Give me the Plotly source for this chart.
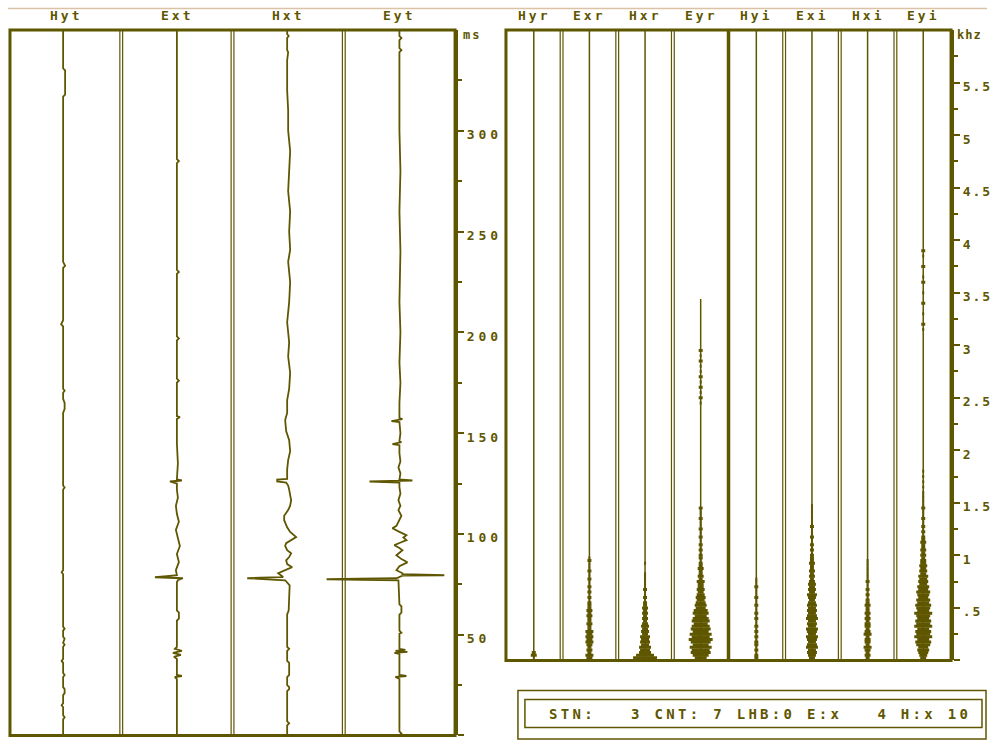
import plotly.graph_objects as go

OLIVE = '#5f5600'
W, H = 992, 751                 # target picture size
FW, FH = 992, 744               # figure size (leaves room for the page's trailing line)
SX, SY = 0.997, 0.994           # small page-to-picture scale seen in the viewer

# ---------------- data ----------------
LEFT_LABELS = ['Hyt', 'Ext', 'Hxt', 'Eyt']
RIGHT_LABELS = ['Hyr', 'Exr', 'Hxr', 'Eyr', 'Hyi', 'Exi', 'Hxi', 'Eyi']

TIME_TICKS = [0, 50, 100, 150, 200, 250, 300]
TIME_TICK_TEXT = ['', '50', '100', '150', '200', '250', '300']
TIME_MINOR = [25, 75, 125, 175, 225, 275, 325]

FREQ_TICKS = [0, 0.5, 1, 1.5, 2, 2.5, 3, 3.5, 4, 4.5, 5, 5.5]
FREQ_TICK_TEXT = ['', '.5', '1', '1.5', '2', '2.5', '3', '3.5', '4', '4.5', '5', '5.5']
FREQ_MINOR = [0.25, 0.75, 1.25, 1.75, 2.25, 2.75, 3.25, 3.75, 4.25, 4.75, 5.25, 5.75]

# time series: (time ms, amplitude)
HYT = [(0, -2.5), (8, -2.5), (9, -1), (10, -2.5), (14, -2.5), (15, -4), (16, -2.5), (20, -2.5),
       (21, -1), (23, -1), (24, -2.5), (29, -2.5), (30, -1), (31, -2.5), (36, -2.5), (37, -4),
       (38, -2.5), (44, -2.5), (45, -1), (46, -2.5), (48, -1), (49, -2.5), (52, -2.5), (53, -1),
       (54, -2.5), (80, -2.5), (81, -4), (82, -2.5), (122, -2.5), (123, -1), (124, -2.5),
       (160, -2.5), (162, -1), (165, -1), (167, -2.5), (170, -2.5), (171, -1), (172, -2.5),
       (203, -2.5), (204, -4.5), (206, -2.5), (232, -2.5), (233, -0.5), (235, -2.5),
       (317, -2.5), (318, -0.5), (330, -0.5), (331, -2.5), (350, -2.5)]

EXT = [(0, 0), (28, 0), (29, -2), (29.5, 5), (30, 0), (38, 0), (39, -3), (40, 4), (41, -4),
       (42, 5), (43, -2), (44, 0), (57, 0), (58, 2), (61, 2), (62, 0), (76, 0), (77, 1),
       (78, 6), (78.5, -22), (79, -10), (79.5, 0), (82, -1), (86, 2), (90, 0), (94, 3),
       (98, 1), (102, -1), (106, 2), (110, 0), (114, -1), (118, 1), (122, 0), (125, 0),
       (126, -7), (126.5, 5), (127, 0), (135, 1), (145, 0), (157, 0), (158, 3), (158.5, 0),
       (175, 0), (176, 2), (177, 0), (196, 0), (197, 2), (198, 0), (229, 0), (230, 2),
       (231, 0), (284, 0), (285, 2), (286, 0), (350, 0)]

HXT = [(0, -1), (5, -1), (6, 1), (7, -1), (22, -1), (23, 1), (24, 1), (25, -1), (29, -1),
       (30, 1), (36, 1), (37, -1), (42, -1), (43, 1), (44, -1), (60, -1), (62, 0.5), (68, 1),
       (74.5, 1.5), (77, -3), (78, -41), (78.3, -28), (78.6, -5), (80.5, -10), (82, -2),
       (83.5, 4), (85, -1), (86.9, -2), (88.5, 1), (90.4, 3), (91.9, -1), (94, -3),
       (95.4, -2), (98.4, 8), (101, 2), (103.3, -1), (106.8, -4), (109, -4), (111.8, 0),
       (114, 2), (116.7, 3), (120, 2), (122, 1), (124, 0), (125.5, -2), (126, -11),
       (127, -11), (127.3, -1), (132, -1), (136.6, 0), (141, 2), (146.5, 1), (151, -2),
       (156.5, -3), (160, -1), (166.4, -1), (172, 1), (180, 2), (188, 0), (195, 1),
       (205, -1), (215, 1), (225, 2), (235, 0), (241, 2), (250, 1), (260, 2), (270, 0),
       (280, 1), (290, 2), (300, 0), (310, 0), (320, -1), (335, -1), (339, 0), (340, -1),
       (346, -1), (347, 0.5), (348, -1), (350, -1)]

EYT = [(0, 0), (1, 2), (2, 0), (28, 0), (29, -4), (29.5, 7), (30, 0), (40.5, 0), (41, -5),
       (41.5, 8), (42, -4), (42.5, 6), (43, 0), (50.5, 0), (51, 2), (52, 0), (60, 0), (61, 2),
       (64, 2), (65, 0), (77, -1), (77.5, -73), (77.8, -40), (78, -3), (79.3, 3), (79.5, 45),
       (79.7, 35), (80, 3), (80.5, 3), (82, -3), (84, 0), (85.9, 8), (87.5, 2), (89.4, -3),
       (90.5, 0), (91.9, 3), (93, 0), (94.4, -5), (95.5, 0), (96.9, 7), (98.2, 4),
       (99.4, 7), (101, 0), (102.8, -7), (104, -3), (106.8, 0), (109, 2), (111.8, -1),
       (114, 1), (116.7, -1), (120, 1), (123.2, 0), (125.5, 0), (126, -30), (126.5, 13),
       (127, 0), (130, 1), (133, -1), (136, 1), (140, 0), (144, 0), (144.5, -7), (145.5, 2),
       (146, 0), (150, 1), (155.5, 0), (156, -8), (157, 3), (157.5, 0), (165, 0), (175, 1),
       (185, 0), (200, 1), (215, 0), (240, 1), (260, 0), (280, 1), (300, 0), (320, 0),
       (339, 0), (340, 2), (341, 0), (345, 0), (346, 2), (347, 0), (350, 0)]

TIME_SERIES = [HYT, EXT, HXT, EYT]

# spectra: frequency grid (kHz) and half-widths
FREQ_GRID = [0.025, 0.05, 0.075, 0.1, 0.125, 0.15, 0.175, 0.2, 0.225, 0.25, 0.275, 0.3,
             0.325, 0.35, 0.375, 0.4, 0.425, 0.45, 0.475, 0.5, 0.525, 0.55, 0.575, 0.6,
             0.625, 0.65, 0.675, 0.7, 0.725, 0.75, 0.775, 0.8, 0.825, 0.85, 0.875, 0.9,
             0.925, 0.95, 0.975, 1.0, 1.025, 1.05, 1.075, 1.1, 1.125, 1.15, 1.175, 1.2,
             1.225, 1.25, 1.275, 1.3, 1.325, 1.35, 1.375, 1.4, 1.425, 1.45, 1.475, 1.5,
             1.525, 1.55, 1.575, 1.6, 1.625, 1.65, 1.675, 1.7, 1.725, 1.75, 1.775, 1.8]

HYR = [1, 3, 2, 0, 0, 0, 0, 0, 0, 0, 0, 0,
       0, 0, 0, 0, 0, 0, 0, 0, 0, 0, 0, 0,
       0, 0, 0, 0, 0, 0, 0, 0, 0, 0, 0, 0,
       0, 0, 0, 0, 0, 0, 0, 0, 0, 0, 0, 0,
       0, 0, 0, 0, 0, 0, 0, 0, 0, 0, 0, 0,
       0, 0, 0, 0, 0, 0, 0, 0, 0, 0, 0, 0]
EXR = [3, 4, 2, 3, 2, 3, 4, 3, 4, 3, 4, 2,
       2, 3, 2, 2, 3, 2, 3, 2, 2, 2, 1, 2,
       1, 2, 1, 2, 1, 1, 2, 1, 1, 2, 1, 1,
       1, 2, 1, 0, 0, 0, 0, 0, 0, 0, 0, 0,
       0, 0, 0, 0, 0, 0, 0, 0, 0, 0, 0, 0,
       0, 0, 0, 0, 0, 0, 0, 0, 0, 0, 0, 0]
HXR = [12, 9, 6, 5, 6, 4, 5, 4, 5, 3, 4, 3,
       4, 3, 2, 3, 2, 3, 2, 3, 2, 2, 1, 2,
       1, 1, 2, 1, 1, 1, 1, 1, 1, 0, 0, 0,
       1, 0, 0, 0, 0, 0, 0, 0, 0, 0, 0, 0,
       0, 0, 0, 0, 0, 0, 0, 0, 0, 0, 0, 0,
       0, 0, 0, 0, 0, 0, 0, 0, 0, 0, 0, 0]
EYR = [6, 8, 10, 9, 11, 8, 10, 12, 9, 11, 8, 10,
       9, 7, 9, 8, 6, 8, 7, 5, 6, 5, 4, 5,
       4, 3, 4, 3, 3, 4, 2, 3, 2, 2, 3, 2,
       2, 1, 2, 2, 1, 2, 1, 2, 1, 1, 2, 1,
       1, 2, 1, 1, 1, 2, 1, 1, 1, 2, 0, 0,
       0, 0, 0, 0, 0, 0, 0, 0, 0, 0, 0, 0]
HYI = [2, 2, 1, 2, 1, 2, 2, 1, 2, 1, 2, 1,
       2, 1, 1, 2, 1, 2, 1, 1, 2, 1, 1, 2,
       1, 1, 1, 2, 1, 1, 1, 0, 0, 0, 0, 0,
       0, 0, 0, 0, 0, 0, 0, 0, 0, 0, 0, 0,
       0, 0, 0, 0, 0, 0, 0, 0, 0, 0, 0, 0,
       0, 0, 0, 0, 0, 0, 0, 0, 0, 0, 0, 0]
EXI = [3, 4, 5, 4, 6, 5, 4, 5, 6, 4, 5, 6,
       4, 5, 4, 6, 5, 4, 5, 4, 5, 4, 3, 4,
       5, 3, 4, 3, 4, 3, 2, 3, 2, 3, 2, 2,
       3, 2, 2, 2, 1, 2, 1, 2, 1, 1, 2, 1,
       1, 1, 2, 1, 1, 1, 1, 1, 1, 1, 1, 0,
       0, 0, 0, 0, 0, 0, 0, 0, 0, 0, 0, 0]
HXI = [2, 3, 2, 3, 4, 2, 3, 3, 2, 4, 3, 2,
       3, 3, 2, 3, 2, 3, 2, 2, 3, 2, 2, 1,
       2, 1, 2, 1, 1, 2, 1, 1, 1, 1, 1, 1,
       1, 1, 0, 0, 0, 0, 0, 0, 0, 0, 0, 0,
       0, 0, 0, 0, 0, 0, 0, 0, 0, 0, 0, 0,
       0, 0, 0, 0, 0, 0, 0, 0, 0, 0, 0, 0]
EYI = [3, 4, 5, 6, 5, 7, 8, 6, 9, 7, 8, 6,
       9, 7, 8, 6, 7, 9, 6, 7, 8, 6, 7, 5,
       6, 7, 5, 6, 4, 5, 4, 5, 3, 4, 3, 4,
       3, 3, 2, 3, 2, 3, 2, 2, 3, 2, 2, 1,
       2, 1, 2, 1, 1, 2, 1, 1, 1, 2, 1, 1,
       1, 1, 1, 1, 0, 1, 0, 1, 0, 1, 0, 1]
SPECTRA = [HYR, EXR, HXR, EYR, HYI, EXI, HXI, EYI]

# sparse higher-frequency components
EYR_HI_F = [2.45, 2.5, 2.55, 2.6, 2.65, 2.7, 2.75, 2.8, 2.85, 2.9, 2.95]
EYR_HI_A = [1, 2, 1, 2, 1, 2, 1, 1, 2, 1, 2]
EYI_HI_F = [3.15, 3.2, 3.3, 3.4, 3.5, 3.6, 3.65, 3.75, 3.85, 3.9]
EYI_HI_A = [1, 2, 1, 2, 1, 2, 1, 2, 1, 2]
HI_EXTRA = {3: (EYR_HI_F, EYR_HI_A), 7: (EYI_HI_F, EYI_HI_A)}

SPEC_TOP = [6, 6, 6, 3.44, 6, 6, 6, 6]

INFO_TEXT = 'STN:\u00a0\u00a0\u00a03\u00a0CNT:\u00a07\u00a0LHB:0\u00a0E:x\u00a0\u00a0\u00a04\u00a0H:x\u00a010'

# ---------------- layout geometry (picture pixels) ----------------
L_X0, L_X1 = 10, 456
R_X0, R_X1 = 507, 953
TOP = 30
L_BOT = 735
R_BOT = 660
L_W = (L_X1 - L_X0) / 4
R_W = (R_X1 - R_X0) / 8


def fx(x):
    return min(x / SX, FW - 1) / FW


def fy(y):
    return 1 - min(y / SY, FH - 1) / FH


def spaced(s, ls):
    return '<span style="letter-spacing:%spx">%s</span>' % (ls, s)


fig = go.Figure()

# time series traces
for i, series in enumerate(TIME_SERIES):
    c = L_W * (i + 0.5)
    fig.add_trace(go.Scatter(
        x=[c + v for _, v in series], y=[t for t, _ in series],
        mode='lines', line=dict(color=OLIVE, width=1.8),
        xaxis='x', yaxis='y', showlegend=False, hoverinfo='skip'))

# spectra traces
for i, amps in enumerate(SPECTRA):
    c = R_W * (i + 0.5)
    xs, ys = [c, c, None], [0, SPEC_TOP[i], None]
    fig.add_trace(go.Scatter(x=xs, y=ys, mode='lines',
                             line=dict(color=OLIVE, width=1.5),
                             xaxis='x2', yaxis='y2', showlegend=False, hoverinfo='skip'))
    bx, by = [], []
    pairs = list(zip(FREQ_GRID, amps))
    if i in HI_EXTRA:
        pairs += list(zip(*HI_EXTRA[i]))
    for f, a in pairs:
        if a > 0:
            bx += [c - a, c + a, None]
            by += [f, f, None]
    fig.add_trace(go.Scatter(x=bx, y=by, mode='lines',
                             line=dict(color=OLIVE, width=3),
                             xaxis='x2', yaxis='y2', showlegend=False, hoverinfo='skip'))

shapes = []
# top thin tan line
shapes.append(dict(type='line', xref='paper', yref='paper', x0=fx(8), x1=1, y0=fy(8.5), y1=fy(8.5),
                   line=dict(color='#d9c2a6', width=1.5)))
# left frame
shapes.append(dict(type='rect', xref='paper', yref='paper', x0=fx(L_X0), x1=fx(L_X1),
                   y0=fy(L_BOT), y1=fy(TOP), line=dict(color=OLIVE, width=3), layer='below'))
for k in range(1, 4):
    xb = L_X0 + L_W * k
    for dx in (-1.4, 1.4):
        shapes.append(dict(type='line', xref='paper', yref='paper', x0=fx(xb + dx), x1=fx(xb + dx),
                           y0=fy(L_BOT), y1=fy(TOP), line=dict(color=OLIVE, width=1.2), layer='below'))
# right frame
shapes.append(dict(type='rect', xref='paper', yref='paper', x0=fx(R_X0), x1=fx(R_X1),
                   y0=fy(R_BOT), y1=fy(TOP), line=dict(color=OLIVE, width=3), layer='below'))
for k in range(1, 8):
    xb = R_X0 + R_W * k
    if k == 4:
        shapes.append(dict(type='line', xref='paper', yref='paper', x0=fx(xb), x1=fx(xb),
                           y0=fy(R_BOT), y1=fy(TOP), line=dict(color=OLIVE, width=3.5), layer='below'))
    else:
        for dx in (-1.4, 1.4):
            shapes.append(dict(type='line', xref='paper', yref='paper', x0=fx(xb + dx), x1=fx(xb + dx),
                               y0=fy(R_BOT), y1=fy(TOP), line=dict(color=OLIVE, width=1.2), layer='below'))
# info box
shapes.append(dict(type='rect', xref='paper', yref='paper', x0=fx(519), x1=fx(989),
                   y0=fy(744), y1=fy(690), line=dict(color=OLIVE, width=1.5)))
shapes.append(dict(type='rect', xref='paper', yref='paper', x0=fx(526), x1=fx(984),
                   y0=fy(727), y1=fy(699), line=dict(color=OLIVE, width=1.5)))

annotations = []
for i, lab in enumerate(LEFT_LABELS):
    annotations.append(dict(x=fx(L_X0 + L_W * (i + 0.5)), y=fy(15), xref='paper', yref='paper',
                            text=spaced(lab, 3), showarrow=False, xanchor='center', yanchor='middle',
                            font=dict(family='DejaVu Sans Mono', size=13, color=OLIVE, weight='bold')))
for i, lab in enumerate(RIGHT_LABELS):
    annotations.append(dict(x=fx(R_X0 + R_W * (i + 0.5)), y=fy(15), xref='paper', yref='paper',
                            text=spaced(lab, 3), showarrow=False, xanchor='center', yanchor='middle',
                            font=dict(family='DejaVu Sans Mono', size=13, color=OLIVE, weight='bold')))
annotations.append(dict(x=fx(462), y=fy(35), xref='paper', yref='paper', text=spaced('ms', 2),
                        showarrow=False, xanchor='left', yanchor='middle',
                        font=dict(family='DejaVu Sans Mono', size=12, color=OLIVE, weight='bold')))
annotations.append(dict(x=fx(957), y=fy(35), xref='paper', yref='paper', text=spaced('khz', 1),
                        showarrow=False, xanchor='left', yanchor='middle',
                        font=dict(family='DejaVu Sans Mono', size=12, color=OLIVE, weight='bold')))
annotations.append(dict(x=fx(548), y=fy(714), xref='paper', yref='paper', text=spaced(INFO_TEXT, 3.3),
                        showarrow=False, xanchor='left', yanchor='middle',
                        font=dict(family='DejaVu Sans Mono', size=14, color=OLIVE, weight='bold')))

tickfont = dict(family='DejaVu Sans Mono', size=13, color=OLIVE, weight='bold')

fig.update_layout(
    width=FW, height=FH, autosize=False,
    margin=dict(l=0, r=0, t=0, b=0),
    paper_bgcolor='white', plot_bgcolor='rgba(0,0,0,0)',
    xaxis=dict(domain=[fx(L_X0), fx(L_X1)], range=[0, L_X1 - L_X0], visible=False, fixedrange=True),
    yaxis=dict(domain=[fy(L_BOT), fy(TOP)], range=[0, 350], anchor='x', side='right',
               showline=True, linecolor=OLIVE, linewidth=3, showgrid=False, zeroline=False,
               ticks='outside', ticklen=6, tickwidth=2, tickcolor=OLIVE,
               tickvals=TIME_TICKS, ticktext=[spaced(t, 4) for t in TIME_TICK_TEXT],
               tickfont=tickfont, ticklabelshift=4, ticklabelstandoff=0,
               minor=dict(tickvals=TIME_MINOR, ticks='outside', ticklen=4, tickwidth=2,
                          tickcolor=OLIVE, showgrid=False)),
    xaxis2=dict(domain=[fx(R_X0), fx(R_X1)], range=[0, R_X1 - R_X0], visible=False, anchor='y2'),
    yaxis2=dict(domain=[fy(R_BOT), fy(TOP)], range=[0, 6], anchor='x2', side='right',
                showline=True, linecolor=OLIVE, linewidth=3, showgrid=False, zeroline=False,
                ticks='outside', ticklen=6, tickwidth=2, tickcolor=OLIVE,
                tickvals=FREQ_TICKS, ticktext=[spaced(t, 2) for t in FREQ_TICK_TEXT],
                tickfont=tickfont, ticklabelshift=4, ticklabelstandoff=0,
                minor=dict(tickvals=FREQ_MINOR, ticks='outside', ticklen=4, tickwidth=2,
                           tickcolor=OLIVE, showgrid=False)),
    shapes=shapes, annotations=annotations,
)

# drop the default page margin so the figure starts at the window's top-left corner
fig.write_html('out.html', config={'displayModeBar': False, 'staticPlot': True},
               post_script="document.body.style.margin='0px';"
                           "document.body.style.overflow='hidden';")
